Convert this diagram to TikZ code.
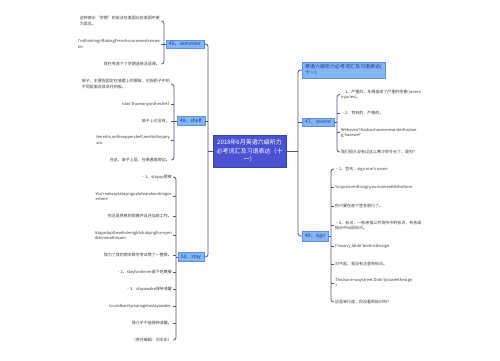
\documentclass[tikz,border=0pt]{standalone}
\usepackage{fontspec}
\setmainfont{Noto Sans CJK SC}[Ligatures=TeXOff]
\usepackage{tikz}
\definecolor{rootblue}{HTML}{4A52D1}
\definecolor{subblue}{HTML}{84B5F7}
\definecolor{subline}{HTML}{5E90E6}
\definecolor{subtext}{HTML}{1F3A78}
\definecolor{linkcol}{HTML}{50508E}
\definecolor{leaftext}{HTML}{3C3C3C}

\begin{document}
\begin{tikzpicture}[x=1pt,y=-1pt,
  link/.style={draw=linkcol,line width=0.8pt},
  brace/.style={link,rounded corners=2.5pt},
  rootbox/.style={fill=rootblue,draw=rootblue!80!black,line width=0.4pt,text=white,
    font=\fontsize{6}{8.6}\selectfont,align=center,text width=67pt,minimum height=32pt,inner sep=3pt},
  topic/.style={fill=subblue,draw=subline,line width=0.4pt,text=subtext,
    font=\fontsize{5}{6.4}\selectfont,inner xsep=3pt,inner ysep=2.2pt,align=left},
  leaf/.style={text=leaftext,font=\fontsize{4}{5.2}\selectfont,inner sep=1pt,align=left},
  lleaf/.style={leaf,anchor=east},
  rleaf/.style={leaf,anchor=west}]
  \useasboundingbox (0,0) rectangle (500,360);
  \fill[white] (0,0) rectangle (500,360);

  \node[rootbox] (root) at (249.5,151) {2018年6月英语六级听力\\必考词汇及习语表达（十\\一）};

  \node[topic,anchor=east] (sem) at (204,44) {46、semester};
  \node[topic,anchor=east] (shf) at (205,121) {48、shelf};
  \node[topic,anchor=east] (sty) at (204,257) {50、stay};
  \node[topic,anchor=west] (head) at (302,70) {英语六级听力必考词汇及习语表达(\\十一)};
  \node[topic,anchor=west] (sev) at (302,122) {47、severe};
  \node[topic,anchor=west] (sgn) at (302,236) {49、sign};

  \coordinate (lt) at (208,151);
  \coordinate (rt) at (298,151);
  \draw[brace] (sem.east) -- (sem.east -| lt) -- (sty.east -| lt) -- (sty.east);
  \draw[link] (shf.east) -- (shf.east -| lt);
  \draw[link] (root.west) -- (lt);
  \draw[brace] (head.west) -- (head.west -| rt) -- (sgn.west -| rt) -- (sgn.west);
  \draw[link] (sev.west) -- (sev.west -| rt);
  \draw[link] (root.east) -- (rt);

  \node[lleaf] (sem1) at (161,21) {这种表示“学期”的说法在美国比在英国中更\\为常见。};
  \node[lleaf] (sem2) at (161,44) {I'mthinkingoftakingFrenchcoursenextsemes\\ter.};
  \node[lleaf] (sem3) at (161,64) {我在考虑下个学期选修法语课。};
  \coordinate (semb) at (164,44);
  \draw[brace] (sem1.east) -- (sem1.east -| semb) -- (sem3.east -| semb) -- (sem3.east);
  \draw[link] (sem.west) -- (semb);
  \draw[link] (sem2.east) -- (sem2.east -| semb);

  \node[lleaf] (shf1) at (171,84) {架子，主要指固定在墙壁上的搁板，也指柜子中的\\不同层面及其承托的板。};
  \node[lleaf] (shf2) at (171,104) {Idon'thaveanyontheshelf.};
  \node[lleaf] (shf3) at (171,121) {架子上也没有。};
  \node[lleaf] (shf4) at (171,140) {Hereitis,ontheuppershelf,nexttothejamj\\ars.};
  \node[lleaf] (shf5) at (171,160) {在这，架子上层，在果酱瓶旁边。};
  \coordinate (shfb) at (174,121);
  \draw[brace] (shf1.east) -- (shf1.east -| shfb) -- (shf5.east -| shfb) -- (shf5.east);
  \draw[link] (shf.west) -- (shfb);
  \foreach \n in {shf2,shf3,shf4}
    \draw[link] (\n.east) -- (\n.east -| shfb);

  \node[lleaf] (sty1) at (173,177) {•1、stayup熬夜};
  \node[lleaf] (sty2) at (173,196.5) {You'realwaysstayinguplateandworkingov\\ertime.};
  \node[lleaf] (sty3) at (173,216) {你总是熬夜到很晚并且还加班工作。};
  \node[lleaf] (sty4) at (173,235.5) {Istayedupthewholenightstudyingformyen\\dtermmathexam.};
  \node[lleaf] (sty5) at (173,255) {我为了我的期末数学考试熬了一整夜。};
  \node[lleaf] (sty6) at (173,272) {•2、stayfordinner留下吃晚餐};
  \node[lleaf] (sty7) at (173,289) {•3、stayawake保持清醒};
  \node[lleaf] (sty8) at (173,306) {Icouldbarelymanagetostayawake.};
  \node[lleaf] (sty9) at (173,323) {我几乎不能保持清醒。};
  \node[lleaf] (sty10) at (173,340) {（责任编辑：刘丰彩）};
  \coordinate (styb) at (176,257);
  \draw[brace] (sty1.east) -- (sty1.east -| styb) -- (sty10.east -| styb) -- (sty10.east);
  \draw[link] (sty.west) -- (styb);
  \foreach \n in {sty2,sty3,sty4,sty5,sty6,sty7,sty8,sty9}
    \draw[link] (\n.east) -- (\n.east -| styb);

  \node[rleaf] (sev1) at (340,94.5) {•1、严重的。车祸造成了严重的伤害(severe\\injuries)。};
  \node[rleaf] (sev2) at (340,113) {•2、苛刻的，严格的。};
  \node[rleaf] (sev3) at (340,132.5) {Wehaven'thadsuchaseverewinterforalon\\g,havewe?};
  \node[rleaf] (sev4) at (340,152) {我们很久没有过这么寒冷的冬天了，是吗？};
  \coordinate (sevb) at (337,122);
  \draw[brace] (sev1.west) -- (sev1.west -| sevb) -- (sev4.west -| sevb) -- (sev4.west);
  \draw[link] (sev.east) -- (sevb);
  \foreach \n in {sev2,sev3}
    \draw[link] (\n.west) -- (\n.west -| sevb);

  \node[rleaf] (sgn1) at (334,169) {•1、签名，sign one's name};
  \node[rleaf] (sgn2) at (334,187) {Youjustneedtosignyournameatthebottom.};
  \node[rleaf] (sgn3) at (334,206) {你只要在底下签名就行了。};
  \node[rleaf] (sgn4) at (334,225.5) {•2、标识，一般来指公共场所中的标识，布告或\\指示中出现标示。};
  \node[rleaf] (sgn5) at (334,246) {I'msorry,Ididn'tnoticethesign.};
  \node[rleaf] (sgn6) at (334,264) {对不起，我没有注意到标识。};
  \node[rleaf] (sgn7) at (334,283) {Thisisone-waystreet.Didn'tyouseethesign\\?};
  \node[rleaf] (sgn8) at (334,302) {这是单行道，你没看到标识吗？};
  \coordinate (sgnb) at (331,236);
  \draw[brace] (sgn1.west) -- (sgn1.west -| sgnb) -- (sgn8.west -| sgnb) -- (sgn8.west);
  \draw[link] (sgn.east) -- (sgnb);
  \foreach \n in {sgn2,sgn3,sgn4,sgn5,sgn6,sgn7}
    \draw[link] (\n.west) -- (\n.west -| sgnb);
\end{tikzpicture}
\end{document}
